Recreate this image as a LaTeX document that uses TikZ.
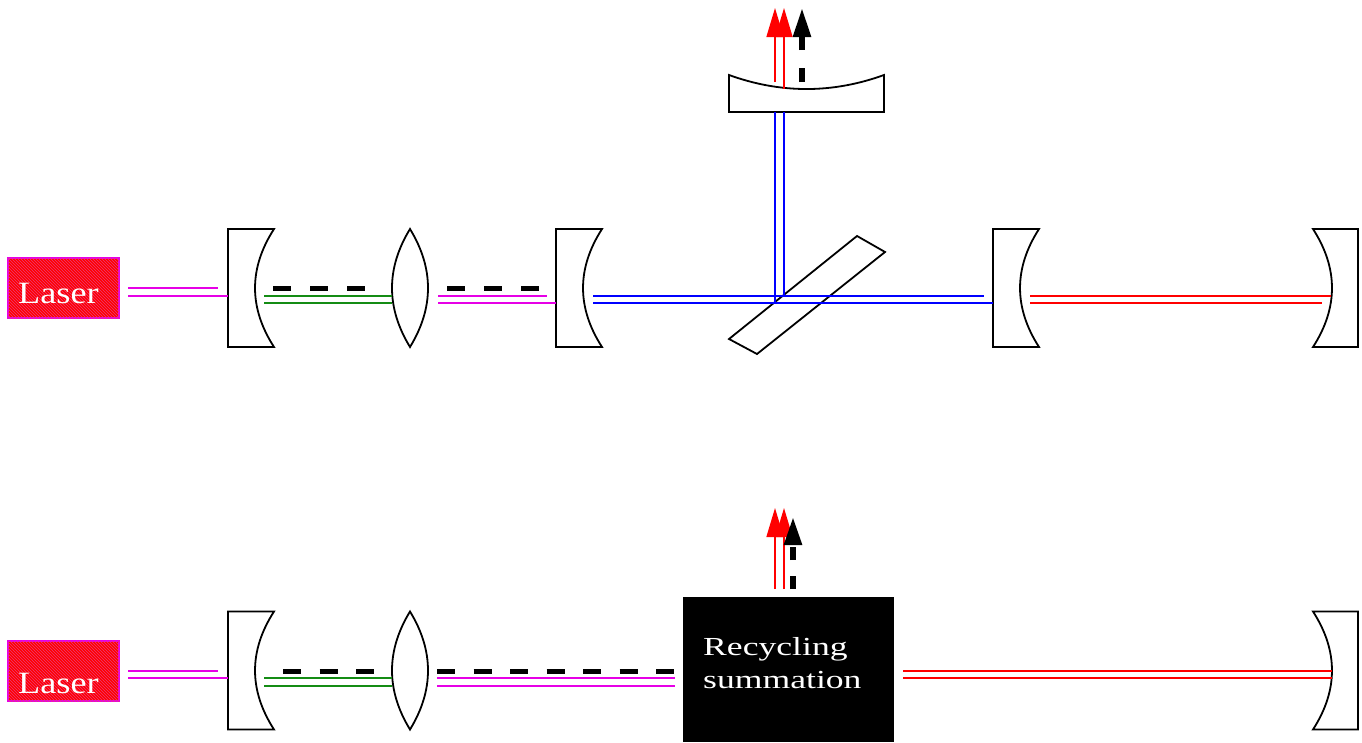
\documentclass[tikz,border=0pt]{standalone}
\usepackage{fontspec}
\usepackage{graphicx}
\setmainfont{Liberation Serif}
\usetikzlibrary{arrows.meta,patterns}
\definecolor{mag}{RGB}{230,0,230}
\definecolor{grn}{RGB}{20,140,20}
\definecolor{blu}{RGB}{0,0,255}
\definecolor{rd}{RGB}{255,0,0}
\definecolor{hatch}{RGB}{235,60,120}
\tikzset{
  optic/.style={draw=black,line width=1.8pt,fill=white,line join=miter},
  beam/.style={line width=1.3pt},
  dashbeam/.style={line width=5pt,dash pattern=on 18pt off 19pt},
  dashbeamb/.style={line width=5pt,dash pattern=on 18pt off 18.5pt},
  redarrow/.style={line width=1.5pt,draw=rd,-{Triangle[length=29pt,width=17pt,fill=rd]}},
  blackarrow/.style={line width=5.5pt,draw=black,dash pattern=on 14pt off 18pt,-{Triangle[length=29pt,width=17pt]}},
  laserbox/.style={draw=mag,line width=1.3pt,fill=red,minimum width=111pt,minimum height=60pt,inner sep=0pt,
    postaction={pattern=north west lines,pattern color=hatch}},
  lasertext/.style={text=white,anchor=base,inner sep=0pt,font=\fontsize{31}{31}\selectfont},
  rectext/.style={text=white,anchor=base west,inner sep=0pt,font=\fontsize{26}{26}\selectfont},
  cmirror/.pic={\draw[optic] (0,-59) -- (46,-59) .. controls (20.7,-19.7) and (20.7,19.7) .. (46,59) -- (0,59) -- cycle;},
  emirror/.pic={\draw[optic] (0,-59) -- (-45,-59) .. controls (-19.7,-19.7) and (-19.7,19.7) .. (-45,59) -- (0,59) -- cycle;},
  clens/.pic={\draw[optic] (0,-59) .. controls (-24,-19.7) and (-24,19.7) .. (0,59) .. controls (24,19.7) and (24,-19.7) .. (0,-59) -- cycle;}
}
\begin{document}
\begin{tikzpicture}[x=1pt,y=-1pt]
\useasboundingbox (0,0) rectangle (1362,742);

% ================= TOP SETUP =================
\node[laserbox] (las1) at (63.5,288) {};
\node[lasertext] (lt1) at (58.5,303) {\scalebox{1.17}[1]{Laser}};

\pic at (228,288) {cmirror};
\pic at (410,288) {clens};
\pic at (556,288) {cmirror};
\pic at (993,288) {cmirror};
\pic at (1358,288) {emirror};
% output mirror
\draw[optic] (729,112) -- (729,75) .. controls (780.7,93.7) and (832.3,93.7) .. (884,75) -- (884,112) -- cycle;
% beam splitter
\draw[optic,fill=none] (857,236) -- (885,252) -- (757,354) -- (729,339) -- cycle;

% coordinates top
\coordinate (a1) at (128,288); \coordinate (a2) at (218,288);
\coordinate (a3) at (128,296); \coordinate (a4) at (228,296);
\coordinate (g1) at (264,296); \coordinate (g2) at (392,296);
\coordinate (g3) at (264,303); \coordinate (g4) at (392,303);
\coordinate (d1) at (273,288); \coordinate (d2) at (366,288);
\coordinate (d3) at (447,288); \coordinate (d4) at (540,288);
\coordinate (m1) at (438,296); \coordinate (m2) at (547,296);
\coordinate (m3) at (438,303); \coordinate (m4) at (556,303);
\coordinate (b1) at (593,296); \coordinate (b2) at (984,296);
\coordinate (b3) at (593,303); \coordinate (b4) at (993,303);
\coordinate (v1) at (775,303); \coordinate (v2) at (775,112);
\coordinate (v3) at (784,296); \coordinate (v4) at (784,112);
\coordinate (r1) at (1030,296); \coordinate (r2) at (1331,296);
\coordinate (r3) at (1030,303); \coordinate (r4) at (1322,303);
\coordinate (o1) at (775,82); \coordinate (o2) at (775,8);
\coordinate (o3) at (784,89); \coordinate (o4) at (784,8);
\coordinate (k1) at (802,82); \coordinate (k2) at (802,8);

\draw[beam,mag] (a1) -- (a2);
\draw[beam,mag] (a3) -- (a4);
\draw[beam,grn] (g1) -- (g2);
\draw[beam,grn] (g3) -- (g4);
\draw[dashbeam] (d1) -- (d2);
\draw[dashbeam] (d3) -- (d4);
\draw[beam,mag] (m1) -- (m2);
\draw[beam,mag] (m3) -- (m4);
\draw[beam,blu] (b1) -- (b2);
\draw[beam,blu] (b3) -- (b4);
\draw[beam,blu] (v1) -- (v2);
\draw[beam,blu] (v3) -- (v4);
\draw[beam,rd] (r1) -- (r2);
\draw[beam,rd] (r3) -- (r4);
\draw[redarrow] (o1) -- (o2);
\draw[redarrow] (o3) -- (o4);
\draw[blackarrow] (k1) -- (k2);

% ================= BOTTOM SETUP =================
\node[laserbox] (las2) at (63.5,671) {};
\node[lasertext] (lt2) at (58.5,693) {\scalebox{1.17}[1]{Laser}};

\pic at (228,670.5) {cmirror};
\pic at (410,670.5) {clens};
\pic at (1358,670.5) {emirror};

\fill[black] (683,597) rectangle (894,742);
\coordinate (rec) at (788.5,669.5);
\node[rectext] (rt1) at (703,655) {\scalebox{1.37}[1]{Recycling}};
\node[rectext] (rt2) at (703,688) {\scalebox{1.37}[1]{summation}};

\coordinate (A1) at (128,671); \coordinate (A2) at (218,671);
\coordinate (A3) at (128,678); \coordinate (A4) at (228,678);
\coordinate (D1) at (283,671); \coordinate (D2) at (374,671);
\coordinate (G1) at (264,678); \coordinate (G2) at (392,678);
\coordinate (G3) at (264,686); \coordinate (G4) at (392,686);
\coordinate (D3) at (437,671); \coordinate (D4) at (675,671);
\coordinate (M1) at (437,678); \coordinate (M2) at (675,678);
\coordinate (M3) at (437,686); \coordinate (M4) at (675,686);
\coordinate (R1) at (903,671); \coordinate (R2) at (1332,671);
\coordinate (R3) at (903,678); \coordinate (R4) at (1332,678);
\coordinate (O1) at (775,589); \coordinate (O2) at (775,508);
\coordinate (O3) at (784,589); \coordinate (O4) at (784,508);
\coordinate (K1) at (793,589); \coordinate (K2) at (793,517);

\draw[beam,mag] (A1) -- (A2);
\draw[beam,mag] (A3) -- (A4);
\draw[dashbeamb] (D1) -- (D2);
\draw[beam,grn] (G1) -- (G2);
\draw[beam,grn] (G3) -- (G4);
\draw[dashbeamb] (D3) -- (D4);
\draw[beam,mag] (M1) -- (M2);
\draw[beam,mag] (M3) -- (M4);
\draw[beam,rd] (R1) -- (R2);
\draw[beam,rd] (R3) -- (R4);
\draw[redarrow] (O1) -- (O2);
\draw[redarrow] (O3) -- (O4);
\draw[blackarrow,dash pattern=on 13pt off 16pt,-{Triangle[length=28pt,width=17pt]}] (K1) -- (K2);
\end{tikzpicture}
\end{document}
